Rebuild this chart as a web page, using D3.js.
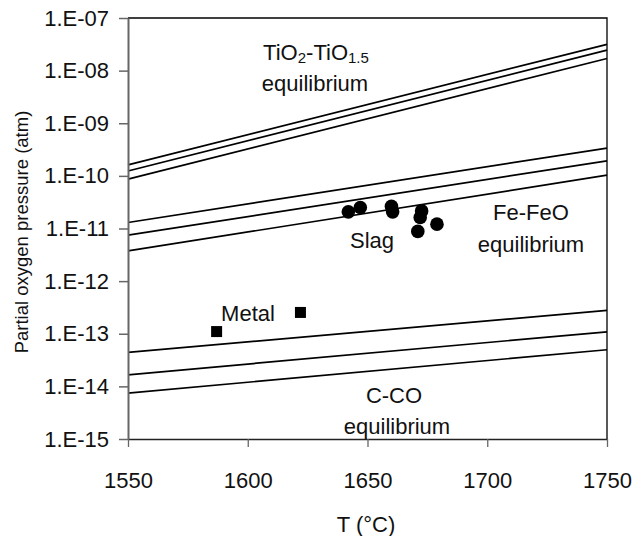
<!DOCTYPE html>
<html>
<head>
<meta charset="utf-8">
<script src="https://cdn.jsdelivr.net/npm/d3@7/dist/d3.min.js"></script>
<style>
  html, body { margin: 0; padding: 0; background: #fff; }
  svg { display: block; font-family: "Liberation Sans", Arial, sans-serif; }
</style>
</head>
<body>
<svg id="chart" width="643" height="536"></svg>
<script>
// Temperature range (°C) and endpoints of the equilibrium lines
const lineTemps = [1550, 1750];

// Equilibrium pO2 (atm) at 1550 °C and 1750 °C, three lines per couple
const tioLines = [
  [1.62e-10, 3.16e-8],
  [1.24e-10, 2.45e-8],
  [8.7e-11, 1.70e-8]
];
const feLines = [
  [1.30e-11, 3.37e-10],
  [7.46e-12, 1.93e-10],
  [3.75e-12, 1.03e-10]
];
const ccoLines = [
  [4.42e-14, 2.77e-13],
  [1.66e-14, 1.09e-13],
  [7.46e-15, 4.97e-14]
];

// Measured slag samples
const slagT = [1642, 1647, 1660, 1660.5, 1672.6, 1672, 1671, 1679];
const slagP = [2.07e-11, 2.5e-11, 2.63e-11, 2.07e-11, 2.16e-11, 1.62e-11, 8.8e-12, 1.21e-11];

// Measured metal samples
const metalT = [1587, 1622];
const metalP = [1.1e-13, 2.54e-13];

// Axis ticks
const xTicks = [1550, 1600, 1650, 1700, 1750];
const yTicks = [1e-15, 1e-14, 1e-13, 1e-12, 1e-11, 1e-10, 1e-9, 1e-8, 1e-7];
const yTickLabels = ["1.E-15", "1.E-14", "1.E-13", "1.E-12", "1.E-11", "1.E-10", "1.E-09", "1.E-08", "1.E-07"];

const svg = d3.select("#chart");
const plotL = 128, plotR = 607, plotT = 18, plotB = 439;

const x = d3.scaleLinear().domain([1550, 1750]).range([plotL, plotR]);
const y = d3.scaleLog().domain([1e-15, 1e-7]).range([plotB, plotT]);

const fontSize = 22;

// Plot frame (top and right edges)
svg.append("path")
  .attr("d", `M${plotL},${plotT}H${plotR}V${plotB}`)
  .attr("fill", "none").attr("stroke", "#000").attr("stroke-width", 1.3);

// Equilibrium lines
const line = d3.line().x(d => x(d[0])).y(d => y(d[1]));
[tioLines, feLines, ccoLines].forEach(group => {
  group.forEach(vals => {
    svg.append("path")
      .datum(lineTemps.map((t, i) => [t, vals[i]]))
      .attr("d", line)
      .attr("fill", "none")
      .attr("stroke", "#000")
      .attr("stroke-width", 1.7);
  });
});

// X axis
const xAxis = svg.append("g")
  .attr("transform", `translate(0,${plotB})`)
  .call(d3.axisBottom(x).tickValues(xTicks).tickFormat(d3.format("d")).tickSize(8).tickPadding(25).tickSizeOuter(0));
xAxis.select(".domain").attr("stroke", "#222").attr("stroke-width", 1.5);
xAxis.selectAll(".tick line").attr("stroke", "#666").attr("stroke-width", 1.3);
xAxis.selectAll("text").attr("font-size", fontSize).attr("fill", "#111")
  .attr("font-family", "Liberation Sans, Arial, sans-serif");

// Y axis
const yAxis = svg.append("g")
  .attr("transform", `translate(${plotL},0)`)
  .call(d3.axisLeft(y).tickValues(yTicks).tickFormat((d, i) => yTickLabels[i]).tickSize(9).tickPadding(10).tickSizeOuter(0));
yAxis.select(".domain").attr("stroke", "#666").attr("stroke-width", 2);
yAxis.selectAll(".tick line").attr("stroke", "#666").attr("stroke-width", 1.5);
yAxis.selectAll("text").attr("font-size", fontSize).attr("fill", "#111")
  .attr("font-family", "Liberation Sans, Arial, sans-serif");

// Slag points
svg.append("g").selectAll("circle")
  .data(slagT.map((t, i) => [t, slagP[i]]))
  .join("circle")
  .attr("cx", d => x(d[0]))
  .attr("cy", d => y(d[1]))
  .attr("r", 6.8)
  .attr("fill", "#000");

// Metal points
const sq = 11;
svg.append("g").selectAll("rect")
  .data(metalT.map((t, i) => [t, metalP[i]]))
  .join("rect")
  .attr("x", d => x(d[0]) - sq / 2)
  .attr("y", d => y(d[1]) - sq / 2)
  .attr("width", sq)
  .attr("height", sq)
  .attr("fill", "#000");

// Annotations
const note = (tx, ty, str) => svg.append("text")
  .attr("x", tx).attr("y", ty)
  .attr("text-anchor", "middle")
  .attr("font-size", fontSize)
  .attr("fill", "#111")
  .text(str);

const tio = svg.append("text")
  .attr("x", 316).attr("y", 60)
  .attr("text-anchor", "middle")
  .attr("font-size", fontSize)
  .attr("fill", "#111");
tio.append("tspan").text("TiO");
tio.append("tspan").attr("font-size", 15).attr("dy", 3).text("2");
tio.append("tspan").attr("dy", -3).text("-TiO");
tio.append("tspan").attr("font-size", 15).attr("dy", 3).text("1.5");
note(315, 91, "equilibrium");

note(372, 248, "Slag");
note(531, 220, "Fe-FeO");
note(531, 252, "equilibrium");
note(248, 321, "Metal");
note(394, 403, "C-CO");
note(397, 434, "equilibrium");

// Axis titles
svg.append("text")
  .attr("x", 366).attr("y", 532)
  .attr("text-anchor", "middle")
  .attr("font-size", fontSize)
  .attr("fill", "#111")
  .text("T (°C)");

svg.append("text")
  .attr("transform", "translate(28,232) rotate(-90)")
  .attr("text-anchor", "middle")
  .attr("font-size", 18.5)
  .attr("fill", "#111")
  .attr("font-family", "Liberation Sans, Arial, sans-serif")
  .text("Partial oxygen pressure (atm)");
</script>
</body>
</html>
